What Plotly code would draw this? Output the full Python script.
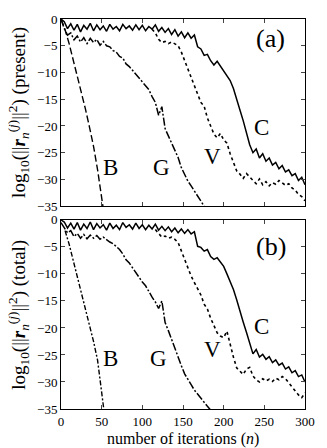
import plotly.graph_objects as go
from plotly.subplots import make_subplots

# ---------------- data ----------------
n_step4 = list(range(0, 301, 4))

# panel (a) "present"
C_a = [0, -0.5, -1.8, -0.9, -2.1, -1.0, -2.4, -1.2, -1.9, -0.8,
       -2.2, -1.1, -2.0, -1.3, -2.3, -1.0, -1.9, -1.4, -2.2, -1.0,
       -1.8, -1.3, -2.1, -1.1, -2.0, -1.2, -2.2, -1.4, -1.9, -1.1,
       -2.3, -1.6, -2.5, -1.8, -2.9, -2.0, -3.2, -2.4, -3.5, -2.6,
       -3.6, -3.0, -5.2, -5.6, -6.8, -6.6, -7.8, -8.6, -7.9, -8.8,
       -9.6, -10.4, -11.5, -13.0, -14.8, -17.0, -19.0, -21.5, -23.5, -25.0,
       -24.3, -26.0, -25.2, -26.6, -26.0, -27.3, -26.8, -28.0, -27.4, -28.6,
       -28.2, -29.3, -28.9, -30.2, -29.6, -31.0]
V_a_n = list(range(112, 301, 4))
V_a = [-1.9, -2.6, -3.8, -4.4, -4.2, -4.6, -4.3, -4.7, -5.0, -6.2,
       -7.8, -9.3, -10.8, -12.6, -14.0, -15.6, -16.3, -18.5, -20.0, -21.5,
       -22.2, -21.4, -22.6, -23.2, -25.2, -26.8, -28.4, -29.0, -29.8, -28.9,
       -29.6, -30.3, -30.8, -29.9, -31.0, -30.4, -31.2, -30.6, -30.9, -30.2,
       -30.7, -31.1, -30.8, -31.6, -32.0, -32.8, -33.2, -34.0]
G_a_n = list(range(0, 177, 4))
G_a = [0, -1.8, -3.0, -2.6, -3.9, -3.2, -4.3, -3.5, -4.6, -3.6,
       -4.4, -3.8, -4.9, -4.2, -5.0, -5.2, -5.9, -6.2, -7.0, -7.3,
       -8.4, -8.9, -9.6, -10.3, -10.9, -11.8, -12.4, -13.2, -14.5, -15.6,
       -18.0, -16.4, -20.5, -21.8, -23.0, -24.5, -25.9, -27.8, -29.2, -30.3,
       -31.2, -32.2, -33.1, -34.0, -35.0]
B_a_n = [0, 5, 10, 15, 20, 25, 30, 35, 40, 45, 50, 52]
B_a = [0, -2.0, -4.6, -7.6, -10.6, -13.6, -16.8, -20.2, -23.8, -28.2, -33.6, -35.5]

# panel (b) "total"
C_b = [0, -0.4, -1.5, -0.6, -1.7, -0.5, -1.9, -0.8, -1.6, -0.4,
       -1.8, -0.7, -1.5, -0.9, -1.9, -0.6, -1.6, -1.0, -1.8, -0.5,
       -1.4, -0.9, -1.7, -0.6, -1.6, -0.9, -1.8, -1.0, -1.7, -0.8,
       -1.9, -1.2, -2.0, -1.3, -2.2, -1.5, -2.4, -1.7, -2.5, -1.8,
       -2.6, -2.2, -4.9, -5.1, -5.8, -5.5, -6.8, -7.3, -7.0, -7.9,
       -8.6, -10.0, -11.4, -12.9, -14.8, -17.0, -18.9, -20.8, -22.6, -24.8,
       -24.0, -25.4, -24.9, -25.8, -25.3, -26.4, -25.9, -26.9, -26.5, -27.6,
       -27.2, -28.3, -27.9, -29.0, -28.7, -30.0]
V_b_n = list(range(116, 301, 4))
V_b = [-1.8, -2.6, -3.2, -3.0, -3.4, -3.2, -3.6, -4.2, -5.8, -7.2,
       -8.9, -10.4, -11.6, -12.8, -13.9, -15.6, -16.5, -18.2, -19.6, -20.9,
       -21.5, -21.8, -20.6, -23.2, -25.4, -27.4, -28.0, -28.6, -27.6, -27.3,
       -28.9, -29.6, -30.0, -29.4, -29.8, -29.5, -29.9, -29.3, -29.6, -29.0,
       -29.4, -30.2, -31.0, -31.8, -32.4, -32.9, -32.0]
G_b_n = list(range(0, 185, 4))
G_b = [-0.5, -1.5, -2.4, -2.0, -3.1, -2.5, -3.4, -2.7, -3.5, -2.8,
       -3.4, -2.9, -3.6, -3.2, -3.7, -4.1, -4.4, -5.0, -5.5, -6.3,
       -7.4, -8.0, -8.9, -9.8, -10.6, -11.5, -12.2, -13.3, -14.3, -15.2,
       -16.4, -15.0, -19.0, -20.5, -22.2, -24.0, -25.5, -27.0, -28.5, -29.6,
       -30.5, -31.5, -32.3, -33.0, -33.7, -34.5, -35.2]
B_b_n = [5, 10, 15, 20, 25, 30, 35, 40, 45, 50, 53]
B_b = [-2.0, -4.5, -7.5, -10.4, -13.4, -16.4, -19.5, -22.5, -26.0, -32.5, -35.5]

x_ticks = [0, 50, 100, 150, 200, 250, 300]
y_ticks = [0, -5, -10, -15, -20, -25, -30, -35]

labels_a = {"B": (60.5, -27.7), "G": (124, -27.7), "V": (186, -25.8), "C": (246, -20.3)}
labels_b = {"B": (60.5, -25.6), "G": (120, -25.6), "V": (186, -24.0), "C": (246, -19.8)}

# ---------------- figure ----------------
SERIF = "Liberation Serif"
fig = make_subplots(rows=2, cols=1, shared_xaxes=False, vertical_spacing=0.035)

def add(x, y, row, dash, width=1.3):
    fig.add_trace(go.Scatter(x=x, y=y, mode="lines",
                             line=dict(color="black", width=width, dash=dash),
                             showlegend=False, hoverinfo="skip"), row=row, col=1)

add(n_step4, C_a, 1, "solid", 1.5)
add(V_a_n, V_a, 1, "dot", 1.6)
add(G_a_n, G_a, 1, "8px,2px,2px,2px", 1.5)
add(B_a_n, B_a, 1, "7px,3px", 1.4)

add(n_step4, C_b, 2, "solid", 1.5)
add(V_b_n, V_b, 2, "dot", 1.6)
add(G_b_n, G_b, 2, "8px,2px,2px,2px", 1.5)
add(B_b_n, B_b, 2, "5px,2px,2px,2px", 1.4)

axis_common = dict(range=[0, 300], tickvals=x_ticks, ticks="inside", ticklen=4,
                   showline=True, linecolor="black", linewidth=1, mirror="ticks",
                   showgrid=False, zeroline=False,
                   tickfont=dict(family=SERIF, size=13, color="black"))
fig.update_xaxes(**axis_common)
fig.update_xaxes(showticklabels=False, row=1, col=1)
fig.update_xaxes(showticklabels=True, row=2, col=1)

yaxis_common = dict(range=[-35, 0], tickvals=y_ticks, ticks="inside", ticklen=4,
                    showline=True, linecolor="black", linewidth=1, mirror="ticks",
                    showgrid=False, zeroline=False,
                    tickfont=dict(family=SERIF, size=13, color="black"))
fig.update_yaxes(**yaxis_common)

fig.update_layout(
    width=327, height=448,
    margin=dict(l=61, r=15, t=13, b=39),
    plot_bgcolor="white", paper_bgcolor="white",
    yaxis=dict(domain=[0.52, 1.0]),
    yaxis2=dict(domain=[0.0, 0.485]),
)

for name, (xx, yy) in labels_a.items():
    fig.add_annotation(x=xx, y=yy, xref="x", yref="y", text=name, showarrow=False,
                       font=dict(family=SERIF, size=23, color="black"))
for name, (xx, yy) in labels_b.items():
    fig.add_annotation(x=xx, y=yy, xref="x2", yref="y2", text=name, showarrow=False,
                       font=dict(family=SERIF, size=23, color="black"))

fig.add_annotation(x=258, y=-3.7, xref="x", yref="y", text="(a)", showarrow=False,
                   font=dict(family=SERIF, size=26, color="black"))
fig.add_annotation(x=258, y=-4.9, xref="x2", yref="y2", text="(b)", showarrow=False,
                   font=dict(family=SERIF, size=26, color="black"))

ytitle = "log<sub>10</sub>(||<b><i>r</i></b><sub><i>n</i></sub><sup>(<i>j</i>)</sup>||<sup>2</sup>) ({})"
fig.add_annotation(x=-0.175, y=0.76, xref="paper", yref="paper", text=ytitle.format("present"),
                   textangle=-90, showarrow=False, xanchor="center", yanchor="middle",
                   font=dict(family=SERIF, size=19, color="black"))
fig.add_annotation(x=-0.175, y=0.2425, xref="paper", yref="paper", text=ytitle.format("total"),
                   textangle=-90, showarrow=False, xanchor="center", yanchor="middle",
                   font=dict(family=SERIF, size=19, color="black"))
fig.add_annotation(x=0.5, y=-0.078, xref="paper", yref="paper",
                   text="number of iterations (<i>n</i>)", showarrow=False,
                   xanchor="center", yanchor="middle",
                   font=dict(family=SERIF, size=16, color="black"))

fig.write_html("out.html", config={"displayModeBar": False})

# remove the default page margin so the figure sits at the window's top-left corner
with open("out.html", "r", encoding="utf-8") as f:
    html = f.read()
html = html.replace("<body>", '<body style="margin:0;padding:0;">', 1)
html = html.replace("<head>", "<head><style>html,body{margin:0;padding:0;overflow:hidden;}</style>", 1)
with open("out.html", "w", encoding="utf-8") as f:
    f.write(html)
